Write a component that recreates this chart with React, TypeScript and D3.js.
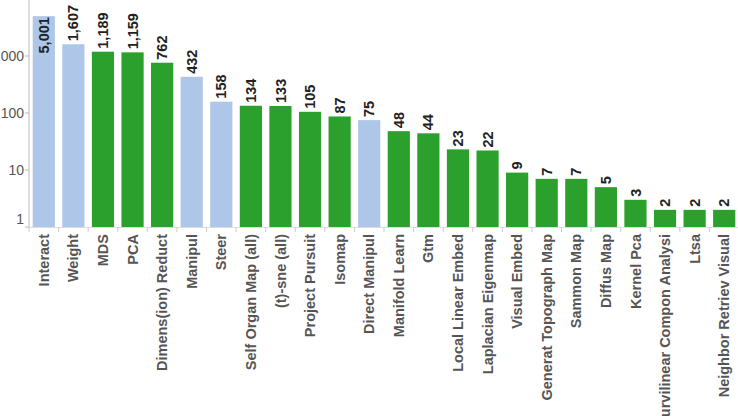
import React, { useRef, useEffect } from "react";
import * as d3 from "d3";

// keyword counts (log scale)
const categories = [
  "Interact", "Weight", "MDS", "PCA", "Dimens(ion) Reduct", "Manipul", "Steer",
  "Self Organ Map (all)", "(t)-sne (all)", "Project Pursuit", "Isomap", "Direct Manipul",
  "Manifold Learn", "Gtm", "Local Linear Embed", "Laplacian Eigenmap", "Visual Embed",
  "Generat Topograph Map", "Sammon Map", "Diffus Map", "Kernel Pca",
  "Curvilinear Compon Analysi", "Ltsa", "Neighbor Retriev Visual",
];
const counts = [5001, 1607, 1189, 1159, 762, 432, 158, 134, 133, 105, 87, 75, 48, 44, 23, 22, 9, 7, 7, 5, 3, 2, 2, 2];
const groups = [
  "interaction", "interaction", "dr", "dr", "dr", "interaction", "interaction",
  "dr", "dr", "dr", "dr", "interaction", "dr", "dr", "dr", "dr", "dr",
  "dr", "dr", "dr", "dr", "dr", "dr", "dr",
];
const yTicks = [1, 10, 100, 1000];

const W = 738;
const H = 416;
const font = "'Liberation Sans', Arial, Helvetica, sans-serif";

const App = () => {
  const ref = useRef<SVGSVGElement>(null);

  useEffect(() => {
    const svg = d3.select(ref.current);
    svg.selectAll("*").remove();

    const margin = { left: 29, bottom: 227 };
    const data = categories.map((c, i) => ({ name: c, value: counts[i], group: groups[i] }));

    const x = d3.scaleBand().domain(categories).range([margin.left, W + 1]).paddingInner(0.25).paddingOuter(0.125);
    const y = d3.scaleLog().domain([1, 10000]).range([margin.bottom, -1]);
    const color = d3.scaleOrdinal<string, string>().domain(["interaction", "dr"]).range(["#aec7e8", "#2ca02c"]);

    // bars
    svg.append("g")
      .selectAll("rect")
      .data(data)
      .join("rect")
      .attr("x", (d) => x(d.name)!)
      .attr("width", x.bandwidth())
      .attr("y", (d) => y(d.value))
      .attr("height", (d) => y(1) - y(d.value))
      .attr("fill", (d) => color(d.group));

    // y axis
    const yAxis = svg.append("g");
    yAxis.append("line")
      .attr("x1", margin.left).attr("x2", margin.left)
      .attr("y1", y(10000)).attr("y2", y(1))
      .attr("stroke", "#bbb");
    const yt = yAxis.selectAll("g.tick").data(yTicks).join("g").attr("class", "tick")
      .attr("transform", (d) => `translate(0,${y(d)})`);
    yt.append("line").attr("x1", margin.left - 4).attr("x2", margin.left).attr("stroke", "#bbb");
    yt.append("text")
      .attr("x", margin.left - 5)
      .attr("dy", (d) => (d === 1 ? "-0.25em" : "0.35em"))
      .attr("text-anchor", "end")
      .attr("font-family", font)
      .attr("font-size", 14)
      .attr("fill", "#555")
      .text((d) => d3.format("d")(d));

    // x axis
    const xAxis = svg.append("g");
    xAxis.append("line")
      .attr("x1", margin.left).attr("x2", W)
      .attr("y1", margin.bottom + 0.5).attr("y2", margin.bottom + 0.5)
      .attr("stroke", "#ddd");
    xAxis.selectAll("line.tick")
      .data(categories.concat(["end"]))
      .join("line")
      .attr("class", "tick")
      .attr("x1", (d, i) => margin.left + i * x.step())
      .attr("x2", (d, i) => margin.left + i * x.step())
      .attr("y1", margin.bottom).attr("y2", margin.bottom + 5)
      .attr("stroke", "#ccc");
    xAxis.selectAll("text")
      .data(categories)
      .join("text")
      .attr("transform", (d) => `translate(${x(d)! + x.bandwidth() / 2},${margin.bottom + 7}) rotate(-90)`)
      .attr("dy", "0.35em")
      .attr("text-anchor", "end")
      .attr("font-family", font)
      .attr("font-weight", "bold")
      .attr("font-size", 14.5)
      .attr("fill", "#555")
      .text((d) => d);

    // value labels
    const fmt = d3.format(",");
    svg.append("g")
      .selectAll("text")
      .data(data)
      .join("text")
      .attr("font-family", font)
      .attr("font-weight", "bold")
      .attr("font-size", 14.5)
      .attr("fill", "#222")
      .attr("dy", "0.35em")
      .text((d) => fmt(d.value))
      .each(function (d) {
        const el = d3.select(this);
        const len = (this as SVGTextElement).getComputedTextLength();
        const cx = x(d.name)! + x.bandwidth() / 2;
        const top = y(d.value);
        if (top - 3 - len < 0) {
          el.attr("text-anchor", "end").attr("transform", `translate(${cx},${top + 1}) rotate(-90)`);
        } else {
          el.attr("text-anchor", "start").attr("transform", `translate(${cx},${top - 3}) rotate(-90)`);
        }
      });
  }, []);

  return (
    <svg
      ref={ref}
      width={W}
      height={H}
      style={{ position: "absolute", left: 0, top: 0, background: "#fff" }}
    />
  );
};

export default App;
